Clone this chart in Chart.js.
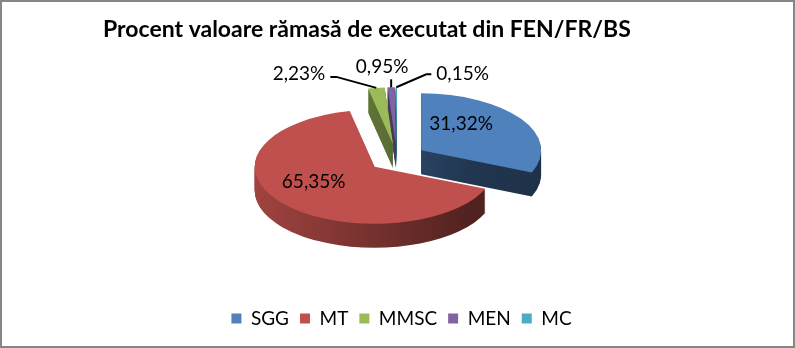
<!DOCTYPE html>
<html><head><meta charset="utf-8">
<script src="https://cdn.jsdelivr.net/npm/chart.js@4/dist/chart.umd.min.js"></script>
<style>html,body{margin:0;padding:0;background:#fff}#wrap{position:relative;width:795px;height:348px}canvas{display:block}</style>
</head><body><div id="wrap"><canvas id="c" width="795" height="348"></canvas></div>
<script>
const categories = ['SGG', 'MT', 'MMSC', 'MEN', 'MC'];
const values = [31.32, 65.35, 2.23, 0.95, 0.15];
const valueLabels = ['31,32%', '65,35%', '2,23%', '0,95%', '0,15%'];
const titleText = 'Procent valoare rămasă de executat din FEN/FR/BS';
const colors = ['#4F81BD', '#C0504D', '#9BBB59', '#8064A2', '#4BACC6'];

function shade(hex, f) {
  const n = parseInt(hex.slice(1), 16);
  const r = Math.round(((n >> 16) & 255) * f), g = Math.round(((n >> 8) & 255) * f), b = Math.round((n & 255) * f);
  return 'rgb(' + r + ',' + g + ',' + b + ')';
}

const labelLayout = [
  {type: 'in', f: 0.42, dx: -2, dy: -13},
  {type: 'in', f: 0.66, dx: 0, dy: -9},
  {type: 'out', elbow: [-40, -11], end: [-46, -11], text: [-5, -3], align: 'right'},
  {type: 'out', elbow: [0, -8], end: [0, -8], text: [-9, -12], align: 'center'},
  {type: 'out', elbow: [30, -13], end: [35, -13], text: [5, 0], align: 'left'}
];

const pie3d = {
  id: 'pie3d',
  beforeDatasetsDraw(chart, args, o) {
    const ctx = chart.ctx;
    const arcs = chart.getDatasetMeta(0).data;
    if (!arcs.length) return false;
    const a0 = arcs[0];
    const s = o.radius / a0.outerRadius;
    const d = o.explode / s;
    const L = o.cx - o.radius - o.explode, R = o.cx + o.radius + o.explode;
    const setT = (dy) => {
      ctx.translate(o.cx, o.cy + dy);
      ctx.scale(s, s * o.tilt);
      ctx.translate(-a0.x, -a0.y);
    };
    const drawWith = (arc, fill) => {
      const p = Object.create(arc);
      p.options = Object.assign({}, arc.options, {backgroundColor: fill, borderWidth: 0, offset: 0});
      p.draw(ctx);
    };
    // sides
    for (let dy = o.depth; dy >= 1; dy--) {
      arcs.forEach((arc, i) => {
        const h = (arc.startAngle + arc.endAngle) / 2;
        ctx.save();
        setT(dy);
        const ox = Math.cos(h) * d, oy = Math.sin(h) * d;
        ctx.translate(ox, oy);
        const xl = (L - o.cx) / s + a0.x - ox, xr = (R - o.cx) / s + a0.x - ox;
        const g = ctx.createLinearGradient(xl, 0, xr, 0);
        const c = colors[i];
        g.addColorStop(0, shade(c, 0.85));
        g.addColorStop(0.75, shade(c, 0.42));
        g.addColorStop(1, shade(c, 0.38));
        drawWith(arc, g);
        ctx.restore();
      });
    }
    // top faces
    arcs.forEach((arc, i) => {
      const h = (arc.startAngle + arc.endAngle) / 2;
      ctx.save();
      setT(0);
      ctx.translate(Math.cos(h) * d, Math.sin(h) * d);
      drawWith(arc, colors[i]);
      ctx.restore();
    });
    // labels
    const scr = (arc, frac) => {
      const h = (arc.startAngle + arc.endAngle) / 2;
      const cx = o.cx + Math.cos(h) * o.explode, cy = o.cy + Math.sin(h) * o.explode * o.tilt;
      return [cx + Math.cos(h) * o.radius * frac, cy + Math.sin(h) * o.radius * frac * o.tilt];
    };
    ctx.save();
    ctx.font = o.labelFont;
    ctx.fillStyle = '#000';
    ctx.strokeStyle = '#000';
    ctx.lineWidth = 2;
    ctx.textBaseline = 'middle';
    arcs.forEach((arc, i) => {
      const lay = labelLayout[i];
      if (lay.type === 'in') {
        const p = scr(arc, lay.f);
        ctx.textAlign = 'center';
        ctx.fillText(valueLabels[i], p[0] + lay.dx, p[1] + lay.dy);
      } else {
        const p = scr(arc, 1);
        const e1 = [p[0] + lay.elbow[0], p[1] + lay.elbow[1]];
        const e2 = [p[0] + lay.end[0], p[1] + lay.end[1]];
        ctx.beginPath();
        ctx.moveTo(p[0], p[1]);
        ctx.lineTo(e1[0], e1[1]);
        ctx.lineTo(e2[0], e2[1]);
        ctx.stroke();
        ctx.textAlign = lay.align;
        ctx.fillText(valueLabels[i], e2[0] + lay.text[0], e2[1] + lay.text[1]);
      }
    });
    ctx.restore();
    return false;
  },
  afterDraw(chart, args, o) {
    const ctx = chart.ctx;
    ctx.save();
    ctx.font = o.titleFont;
    ctx.fillStyle = '#000';
    ctx.textAlign = 'left';
    ctx.textBaseline = 'middle';
    ctx.fillText(titleText, o.titleX, o.titleY);
    ctx.strokeStyle = '#868686';
    ctx.lineWidth = 2;
    ctx.strokeRect(1, 1, chart.width - 2, chart.height - 2);
    ctx.restore();
  }
};

new Chart(document.getElementById('c'), {
  type: 'pie',
  data: {
    labels: categories,
    datasets: [{data: values, backgroundColor: colors, borderWidth: 0}]
  },
  options: {
    responsive: false,
    animation: false,
    devicePixelRatio: 1,
    layout: {padding: {top: 50, bottom: 10, left: 14, right: 6}},
    plugins: {
      title: {display: false},
      tooltip: {enabled: false},
      legend: {
        position: 'bottom',
        labels: {
          boxWidth: 10, boxHeight: 10, padding: 11, color: '#000',
          font: {family: 'Lato', size: 19}
        }
      },
      pie3d: {
        cx: 397, cy: 158, radius: 120, tilt: 0.475, explode: 29, depth: 24,
        labelFont: '19px Lato', titleFont: 'bold 23px Lato', titleX: 103, titleY: 30
      }
    }
  },
  plugins: [pie3d]
});
</script>
</body></html>
